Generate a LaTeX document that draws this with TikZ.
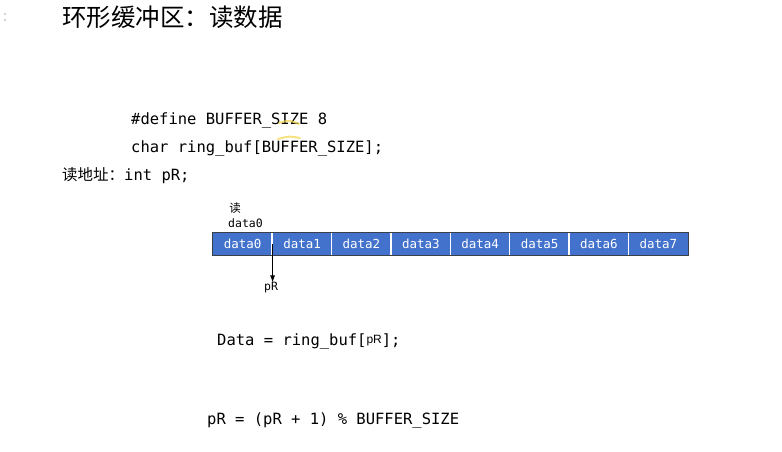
\documentclass[tikz,border=0pt]{standalone}
\usepackage{fontspec}
\usetikzlibrary{arrows.meta}
\newfontfamily\cjk{Noto Sans CJK SC}
\newfontfamily\codefont{DejaVu Sans Mono}
\newfontfamily\labelfont{Liberation Sans}
\definecolor{cellblue}{HTML}{4272CC}
\definecolor{barframe}{HTML}{3A3F4A}
\definecolor{marker}{HTML}{F2D64B}
\tikzset{
    code/.style={anchor=base west, inner sep=0, font=\codefont\fontsize{15.5}{18}\selectfont},
    cell/.style={fill=cellblue, text=white, minimum width=59.375pt, minimum height=22pt, inner sep=0, font=\codefont\fontsize{12.5}{14}\selectfont},
    small/.style={inner sep=0, font=\codefont\fontsize{11.5}{13}\selectfont},
}
\begin{document}
\begin{tikzpicture}[x=1pt,y=-1pt]
    \useasboundingbox (0,0) rectangle (782,452);

    \fill [gray!35] (5,14) circle (1.3) (5,20) circle (1.3);
    \node [anchor=base west, inner sep=0, font=\cjk\fontsize{24.5}{28}\selectfont] (title) at (62,27) {环形缓冲区：读数据};

    \node [code] (define) at (131,124) {\#define BUFFER\_SIZE 8};
    \node [code] (decl) at (131,152) {char ring\_buf[BUFFER\_SIZE];};
    \node [code] (addr) at (62,180) {{\cjk 读地址：}int pR;};

    % pointer marks
    \draw [marker, opacity=.7, line width=2pt, line cap=round] (279,123) .. controls (289,120) .. (299,124);
    \draw [marker, opacity=.7, line width=2pt, line cap=round] (278,139) .. controls (289,136) .. (300,138);

    \foreach \i in {0,...,7}
        \node [cell] (cell\i) at (242.69+59.375*\i,244) {data\i};
    \foreach \i in {1,...,7}
        \draw [white, line width=1.5pt] (cell\i.north west) -- (cell\i.south west);
    \draw [barframe, line width=.8pt] (cell0.north west) rectangle (cell7.south east);

    \node [small, font=\cjk\fontsize{11.5}{13}\selectfont] (read) at (235,208) {读};
    \node [small, anchor=west] (rdata) at (228,223) {data0};
    \node [small] (pR) at (271,288) {pR};
    \draw [-{Latex[length=7pt,width=5pt]}, line width=.9pt] (cell0.east) -- (cell0.east |- pR.north);

    \node [code] (readstmt) at (217,345) {Data = ring\_buf[{\labelfont\fontsize{12}{14}\selectfont\raisebox{2pt}{pR}}];};
    \node [code] (advance) at (207,424) {pR = (pR + 1) \% BUFFER\_SIZE};
\end{tikzpicture}
\end{document}
